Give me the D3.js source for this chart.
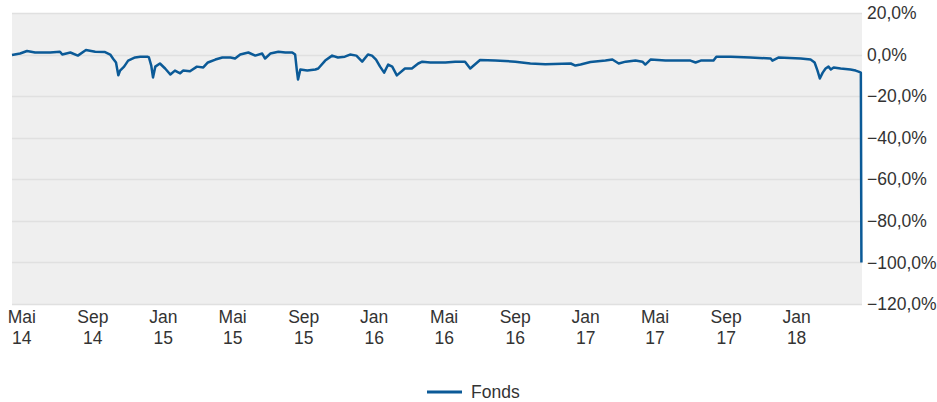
<!DOCTYPE html>
<html>
<head>
<meta charset="utf-8">
<script src="https://cdn.jsdelivr.net/npm/d3@7"></script>
<style>
  body { margin: 0; background: #fff; }
  text { font-family: "Liberation Sans", Arial, sans-serif; }
</style>
</head>
<body>
<div id="chart"></div>
<script>
// series: dates and fund performance in %
var dates = ["2014-04-15","2014-04-29","2014-05-11","2014-05-25","2014-06-20","2014-07-07","2014-07-11","2014-07-25",
  "2014-08-07","2014-08-21","2014-09-06","2014-09-23","2014-10-02","2014-10-07","2014-10-12","2014-10-16","2014-10-19",
  "2014-10-26","2014-11-02","2014-11-14","2014-11-23","2014-12-05","2014-12-08","2014-12-12","2014-12-15","2014-12-19",
  "2014-12-27","2015-01-05","2015-01-14","2015-01-22","2015-01-31","2015-02-05","2015-02-17","2015-03-01","2015-03-12",
  "2015-03-20","2015-04-02","2015-04-14","2015-04-28","2015-05-06","2015-05-15","2015-05-29","2015-06-10","2015-06-22",
  "2015-06-27","2015-07-06","2015-07-20","2015-08-01","2015-08-13","2015-08-18","2015-08-21","2015-08-23","2015-08-27",
  "2015-09-08","2015-09-22","2015-09-27","2015-10-09","2015-10-21","2015-10-31","2015-11-12","2015-11-21","2015-12-02",
  "2015-12-12","2015-12-22","2015-12-29","2016-01-05","2016-01-12","2016-01-19","2016-01-26","2016-02-02","2016-02-10",
  "2016-02-24","2016-03-07","2016-03-18","2016-03-25","2016-04-08","2016-05-04","2016-05-21","2016-06-07","2016-06-16",
  "2016-06-24","2016-07-03","2016-07-29","2016-09-02","2016-09-28","2016-10-24","2016-12-07","2016-12-15","2016-12-24",
  "2017-01-10","2017-02-05","2017-02-17","2017-02-28","2017-03-12","2017-03-29","2017-04-10","2017-04-15","2017-04-24",
  "2017-05-20","2017-07-02","2017-07-11","2017-07-20","2017-08-11","2017-08-16","2017-09-10","2017-10-14","2017-11-18",
  "2017-11-21","2017-12-02","2018-01-09","2018-01-26","2018-02-02","2018-02-07","2018-02-11","2018-02-16","2018-02-21",
  "2018-02-26","2018-03-02","2018-03-07","2018-03-19","2018-04-05","2018-04-14","2018-04-19","2018-04-23","2018-04-24"];
var fonds = [-0.2,0.5,1.7,1.0,1.0,1.4,0.0,1.0,
  -0.5,2.2,1.4,1.2,0.0,-2.0,-3.8,-10.0,-7.7,
  -5.8,-2.9,-1.4,-1.0,-1.0,-1.4,-5.3,-11.0,-5.8,
  -4.3,-6.7,-9.6,-7.7,-9.0,-7.7,-8.0,-5.8,-6.2,
  -3.8,-2.4,-1.4,-1.4,-1.9,0.0,1.0,-0.5,0.5,
  -1.9,0.5,1.4,1.0,1.0,0.0,-7.7,-12.0,-7.2,
  -7.7,-7.2,-6.7,-2.9,-0.5,-1.4,-1.0,0.0,-0.5,
  -3.4,0.0,-0.5,-2.4,-5.8,-8.7,-4.8,-5.8,-10.0,
  -6.7,-6.7,-4.3,-3.4,-3.8,-3.8,-3.4,-3.4,-6.7,
  -4.8,-2.6,-2.9,-3.4,-4.3,-4.6,-4.3,-5.3,-4.8,
  -3.6,-2.9,-2.4,-4.3,-3.4,-2.9,-3.4,-4.8,-2.4,
  -2.9,-2.9,-3.8,-2.9,-2.9,-1.0,-1.0,-1.4,-1.9,
  -2.9,-1.4,-1.9,-2.4,-3.8,-7.7,-11.5,-8.7,-6.7,
  -5.8,-7.2,-6.2,-6.7,-7.2,-7.7,-8.2,-8.7,-100.0];

// axis ticks
var xTickDates = ["2014-05-01","2014-09-01","2015-01-01","2015-05-01","2015-09-01","2016-01-01",
  "2016-05-01","2016-09-01","2017-01-01","2017-05-01","2017-09-01","2018-01-01"];
var xTickLabels = [["Mai","14"],["Sep","14"],["Jan","15"],["Mai","15"],["Sep","15"],["Jan","16"],
  ["Mai","16"],["Sep","16"],["Jan","17"],["Mai","17"],["Sep","17"],["Jan","18"]];
var yTicks = [20, 0, -20, -40, -60, -80, -100, -120];
var seriesName = "Fonds";

var W = 937, H = 402;
var plot = {left: 12, right: 862, top: 13, bottom: 304};
var parse = d3.timeParse("%Y-%m-%d");
var data = dates.map(function(d, i) { return {date: parse(d), value: fonds[i]}; });

var svg = d3.select("#chart").append("svg")
  .attr("width", W).attr("height", H);

var x = d3.scaleTime()
  .domain([parse("2014-04-15"), parse("2018-04-25")])
  .range([plot.left, plot.right]);
var y = d3.scaleLinear()
  .domain([-120, 20])
  .range([plot.bottom, plot.top]);

// plot background
svg.append("rect")
  .attr("x", plot.left).attr("y", plot.top)
  .attr("width", plot.right - plot.left).attr("height", plot.bottom - plot.top)
  .attr("fill", "#efefef");

// grid lines
svg.append("g").selectAll("line")
  .data(yTicks).enter().append("line")
    .attr("x1", plot.left).attr("x2", plot.right)
    .attr("y1", function(d) { return Math.round(y(d)) + 0.5; })
    .attr("y2", function(d) { return Math.round(y(d)) + 0.5; })
    .attr("stroke", "#e0e0e0").attr("stroke-width", 1.5);

// y axis on the right
var loc = d3.formatLocale({decimal: ",", thousands: ".", grouping: [3], currency: ["", "€"]});
var fmt = loc.format(".1f");
var yAxis = svg.append("g")
  .attr("transform", "translate(" + plot.right + ",0)")
  .call(d3.axisRight(y).tickValues(yTicks).tickSize(0).tickPadding(5)
    .tickFormat(function(d) { return fmt(d) + "%"; }));
yAxis.select(".domain").remove();
yAxis.selectAll("text")
  .attr("fill", "#333").style("font-size", "17.5px");

// x axis with two-line labels
var xAxis = svg.append("g")
  .attr("transform", "translate(0," + plot.bottom + ")")
  .call(d3.axisBottom(x).tickValues(xTickDates.map(parse)).tickSize(0).tickFormat(""));
xAxis.select(".domain").remove();
xAxis.selectAll(".tick").each(function(d, i) {
  var t = d3.select(this).append("text")
    .attr("text-anchor", "middle")
    .attr("fill", "#333")
    .style("font-size", "17.5px");
  t.append("tspan").attr("x", 0).attr("y", 19).text(xTickLabels[i][0]);
  t.append("tspan").attr("x", 0).attr("y", 40).text(xTickLabels[i][1]);
});

// line
var line = d3.line()
  .x(function(d) { return x(d.date); })
  .y(function(d) { return y(d.value); });
svg.append("path")
  .datum(data)
  .attr("d", line)
  .attr("fill", "none")
  .attr("stroke", "#0b5a97")
  .attr("stroke-width", 2.5)
  .attr("stroke-linejoin", "round");

// legend
var lg = svg.append("g").attr("transform", "translate(427,392)");
lg.append("line").attr("x1", 0).attr("x2", 35).attr("y1", 0).attr("y2", 0)
  .attr("stroke", "#0b5a97").attr("stroke-width", 3);
lg.append("text").attr("x", 44).attr("y", 6)
  .attr("fill", "#333").style("font-size", "17.5px")
  .text(seriesName);
</script>
</body>
</html>
